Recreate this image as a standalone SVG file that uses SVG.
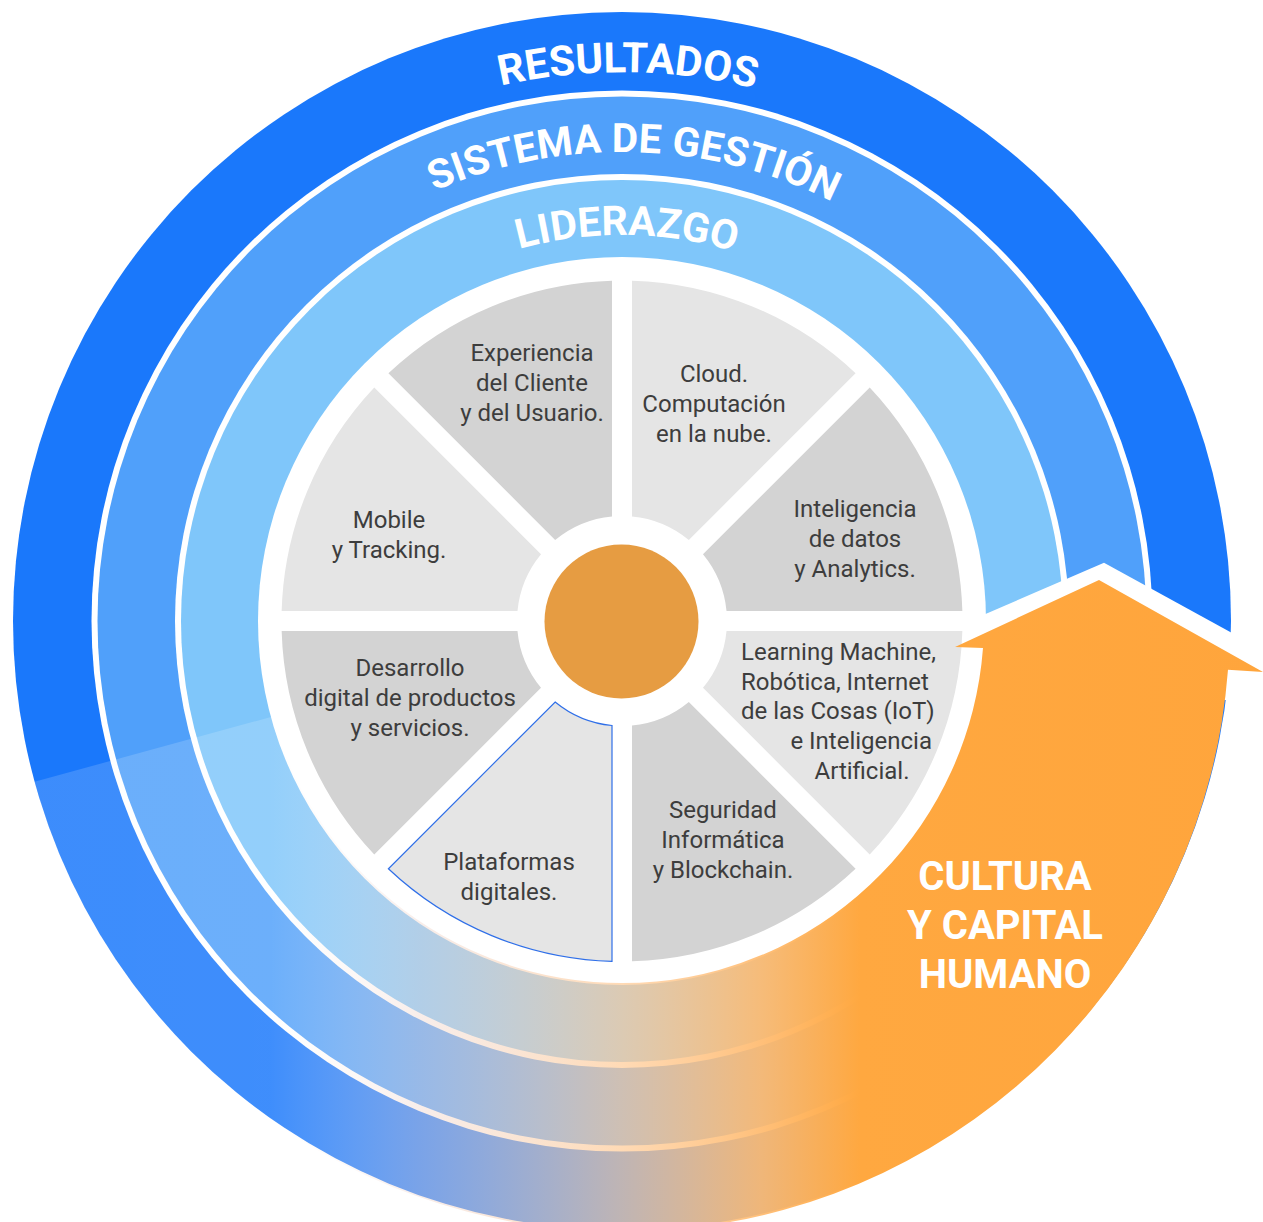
<svg xmlns="http://www.w3.org/2000/svg" width="1263" height="1222" viewBox="0 0 1263 1222">
<style>
.sec-d{fill:#d3d3d3}
.sec-l{fill:#e5e5e5}
.lbl{font-family:Roboto,"Liberation Sans",sans-serif;font-size:24px;fill:#3d3d3d;text-anchor:middle}
.ttl{font-family:Roboto,"Liberation Sans",sans-serif;font-size:42px;font-weight:700;fill:#ffffff;text-anchor:middle}
.cult{font-family:Roboto,"Liberation Sans",sans-serif;font-size:40px;font-weight:700;fill:#ffffff;text-anchor:middle}
</style>
<defs>
<linearGradient id="ovl" gradientUnits="userSpaceOnUse" x1="0" y1="0" x2="1263" y2="0">
<stop offset="0" stop-color="#ffffff" stop-opacity="0.15"/>
<stop offset="0.214" stop-color="#ffffff" stop-opacity="0.16"/>
<stop offset="0.333" stop-color="#f0d8d0" stop-opacity="0.45"/>
<stop offset="0.491" stop-color="#ffcc99" stop-opacity="0.72"/>
<stop offset="0.602" stop-color="#ffbb70" stop-opacity="0.93"/>
<stop offset="0.681" stop-color="#ffa840" stop-opacity="1"/>
<stop offset="1" stop-color="#ffa53c" stop-opacity="1"/>
</linearGradient>
<path id="arcR" d="M73 621 A549 549 0 0 1 1171 621"/>
<path id="arcS" d="M153 621 A469 469 0 0 1 1091 621"/>
<path id="arcL" d="M236 621 A386 386 0 0 1 1008 621"/>
</defs>

<g id="ring-resultados">
<circle cx="622" cy="621" r="609" fill="#1a78fb"/>
<circle cx="622" cy="621" r="530.5" fill="#ffffff"/>
<text class="ttl"><textPath href="#arcR" startOffset="868">RESULTADOS</textPath></text>
</g>
<g id="ring-sistema">
<circle cx="622" cy="621" r="524.5" fill="#50a0fa"/>
<circle cx="622" cy="621" r="447" fill="#ffffff"/>
<text class="ttl" style="font-size:40.5px"><textPath href="#arcS" startOffset="749">SISTEMA DE GESTIÓN</textPath></text>
</g>
<g id="ring-liderazgo">
<circle cx="622" cy="621" r="441" fill="#7fc6fa"/>
<circle cx="622" cy="621" r="364" fill="#ffffff"/>
<text class="ttl" style="font-size:41px"><textPath href="#arcL" startOffset="611">LIDERAZGO</textPath></text>
</g>

<polygon points="960,625 1104,562.7 1263,650 1263,700 960,700" fill="#ffffff"/>

<g id="sector-experiencia">
<path class="sec-d" d="M388.41 373.27 A340.5 340.5 0 0 1 612 280.65 L612 516.48 A105 105 0 0 0 555.16 540.02 Z"/>
<text class="lbl"><tspan x="532" y="361">Experiencia</tspan><tspan x="532" y="391">del Cliente</tspan><tspan x="532" y="421">y del Usuario.</tspan></text>
</g>
<g id="sector-cloud">
<path class="sec-l" d="M632 280.65 A340.5 340.5 0 0 1 855.59 373.27 L688.84 540.02 A105 105 0 0 0 632 516.48 Z"/>
<text class="lbl"><tspan x="714" y="381.5">Cloud.</tspan><tspan x="714" y="411.5">Computación</tspan><tspan x="714" y="441.5">en la nube.</tspan></text>
</g>
<g id="sector-inteligencia">
<path class="sec-d" d="M869.73 387.41 A340.5 340.5 0 0 1 962.35 611 L726.52 611 A105 105 0 0 0 702.98 554.16 Z"/>
<text class="lbl"><tspan x="855" y="516.5">Inteligencia</tspan><tspan x="855" y="546.5">de datos</tspan><tspan x="855" y="576.5">y Analytics.</tspan></text>
</g>
<g id="sector-learning">
<path class="sec-l" d="M962.35 631 A340.5 340.5 0 0 1 869.73 854.59 L702.98 687.84 A105 105 0 0 0 726.52 631 Z"/>
<text class="lbl"><tspan x="741" y="659.5" text-anchor="start">Learning Machine,</tspan><tspan x="741" y="689.5" text-anchor="start">Robótica, Internet</tspan><tspan x="741" y="719" text-anchor="start">de las Cosas (IoT)</tspan><tspan x="932" y="749" text-anchor="end">e Inteligencia</tspan><tspan x="862" y="779">Artificial.</tspan></text>
</g>
<g id="sector-seguridad">
<path class="sec-d" d="M855.59 868.73 A340.5 340.5 0 0 1 632 961.35 L632 725.52 A105 105 0 0 0 688.84 701.98 Z"/>
<text class="lbl"><tspan x="723" y="818">Seguridad</tspan><tspan x="723" y="848">Informática</tspan><tspan x="723" y="878">y Blockchain.</tspan></text>
</g>
<g id="sector-plataformas">
<path class="sec-l" stroke="#2f6fe8" stroke-width="1.2" d="M612 961.35 A340.5 340.5 0 0 1 388.41 868.73 L555.16 701.98 A105 105 0 0 0 612 725.52 Z"/>
<text class="lbl"><tspan x="509" y="870">Plataformas</tspan><tspan x="509" y="900">digitales.</tspan></text>
</g>
<g id="sector-desarrollo">
<path class="sec-d" d="M374.27 854.59 A340.5 340.5 0 0 1 281.65 631 L517.48 631 A105 105 0 0 0 541.02 687.84 Z"/>
<text class="lbl"><tspan x="410" y="675.5">Desarrollo</tspan><tspan x="410" y="705.5">digital de productos</tspan><tspan x="410" y="735.5">y servicios.</tspan></text>
</g>
<g id="sector-mobile">
<path class="sec-l" d="M281.65 611 A340.5 340.5 0 0 1 374.27 387.41 L541.02 554.16 A105 105 0 0 0 517.48 611 Z"/>
<text class="lbl"><tspan x="389" y="528">Mobile</tspan><tspan x="389" y="558">y Tracking.</tspan></text>
</g>

<g id="hub">
<circle cx="621.5" cy="621.5" r="77" fill="#e69c42"/>
</g>

<g id="cultura">
<path fill="url(#ovl)" d="M34.6 781.7 A608 608 0 0 0 1228 669.8 L1263 672 L1099 580 L955 647 L983 648.1 A362 362 0 0 1 272.8 716.5 Z"/>
<text class="cult"><tspan x="1005" y="890">CULTURA</tspan><tspan x="1005" y="939">Y CAPITAL</tspan><tspan x="1005" y="988">HUMANO</tspan></text>
</g>

<g id="connectors"/>
</svg>
